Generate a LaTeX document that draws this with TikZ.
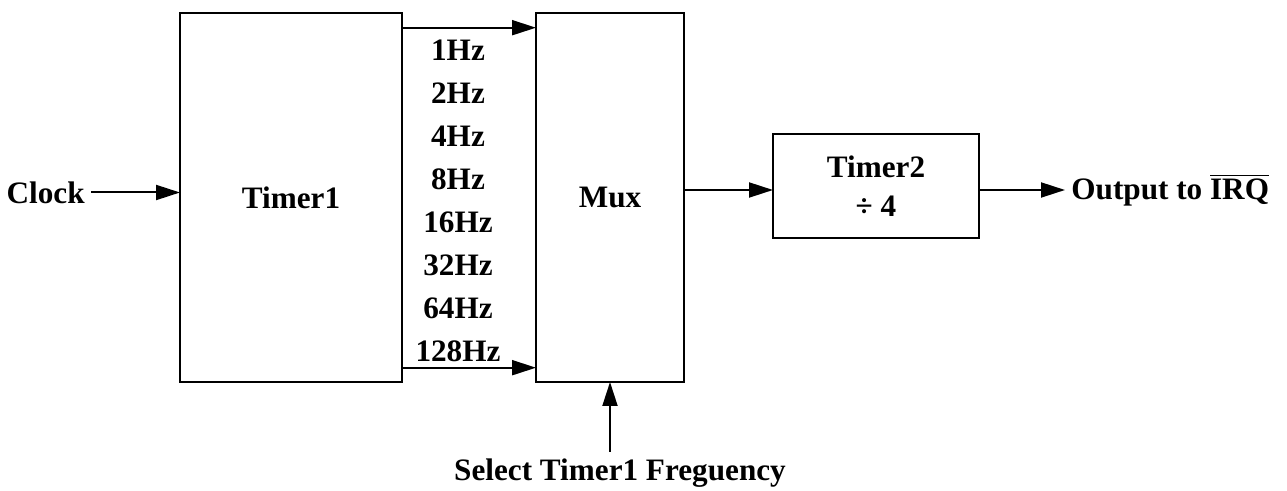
\documentclass[tikz,border=0pt]{standalone}
\usepackage{fontspec}
\setmainfont{Liberation Serif}
\usepackage{tikz}
\usetikzlibrary{arrows.meta, positioning}

\begin{document}
\begin{tikzpicture}[
        node distance=0pt,
        box/.style={rectangle, draw, line width=1pt, outer sep=0pt, align=center, font=\fontsize{15.6}{19.2}\selectfont\bfseries},
        lbl/.style={inner sep=3pt, font=\fontsize{15.6}{19.2}\selectfont\bfseries},
        freq/.style={inner sep=0pt, minimum height=21.15pt, font=\fontsize{15.6}{19.2}\selectfont\bfseries},
        arrow/.style={-{Triangle[length=12pt, width=7.5pt]}, line width=1pt}
    ]
        \useasboundingbox (0,0) rectangle (643.5pt,-245.5pt);
        \node[box, minimum width=111pt, minimum height=184.5pt] (timer1) at (145.5pt,-98.75pt) {Timer1};
        \node[box, minimum width=74pt, minimum height=184.5pt, right=67pt of timer1] (mux) {Mux};
        \node[box, minimum width=103pt, minimum height=52pt, right=44.5pt of mux, yshift=5.75pt] (timer2) {Timer2\\÷ 4};
        \node[lbl, left=44.5pt of timer1, yshift=2.5pt] (clock) {Clock};
        \node[lbl, below=35pt of mux, xshift=5pt] (select) {Select Timer1 Freguency};
        \node[freq] (f1) at ([xshift=28pt, yshift=-18.5pt]timer1.north east) {1Hz};
        \node[freq, below=of f1] (f2) {2Hz};
        \node[freq, below=of f2] (f3) {4Hz};
        \node[freq, below=of f3] (f4) {8Hz};
        \node[freq, below=of f4] (f5) {16Hz};
        \node[freq, below=of f5] (f6) {32Hz};
        \node[freq, below=of f6] (f7) {64Hz};
        \node[freq, below=of f7] (f8) {128Hz};
        \coordinate (fa) at ([yshift=-7.35pt]timer1.north east);
        \coordinate (fb) at ([yshift=7.15pt]timer1.south east);
        \coordinate (t2in) at ([yshift=-2pt]timer2.west);
        \coordinate (t2out) at ([yshift=-2pt]timer2.east);
        \node[lbl, right=43pt of t2out] (out) {Output to $\overline{\mbox{IRQ}}$};
        \draw[arrow] (clock.east) -- (clock.east -| timer1.west);
        \draw[arrow] (fa) -- (fa -| mux.west);
        \draw[arrow] (fb) -- (fb -| mux.west);
        \draw[arrow] (t2in -| mux.east) -- (t2in);
        \draw[arrow] (t2out) -- (t2out -| out.west);
        \draw[arrow] (select.north -| mux.south) -- (mux.south);
    \end{tikzpicture}
\end{document}
